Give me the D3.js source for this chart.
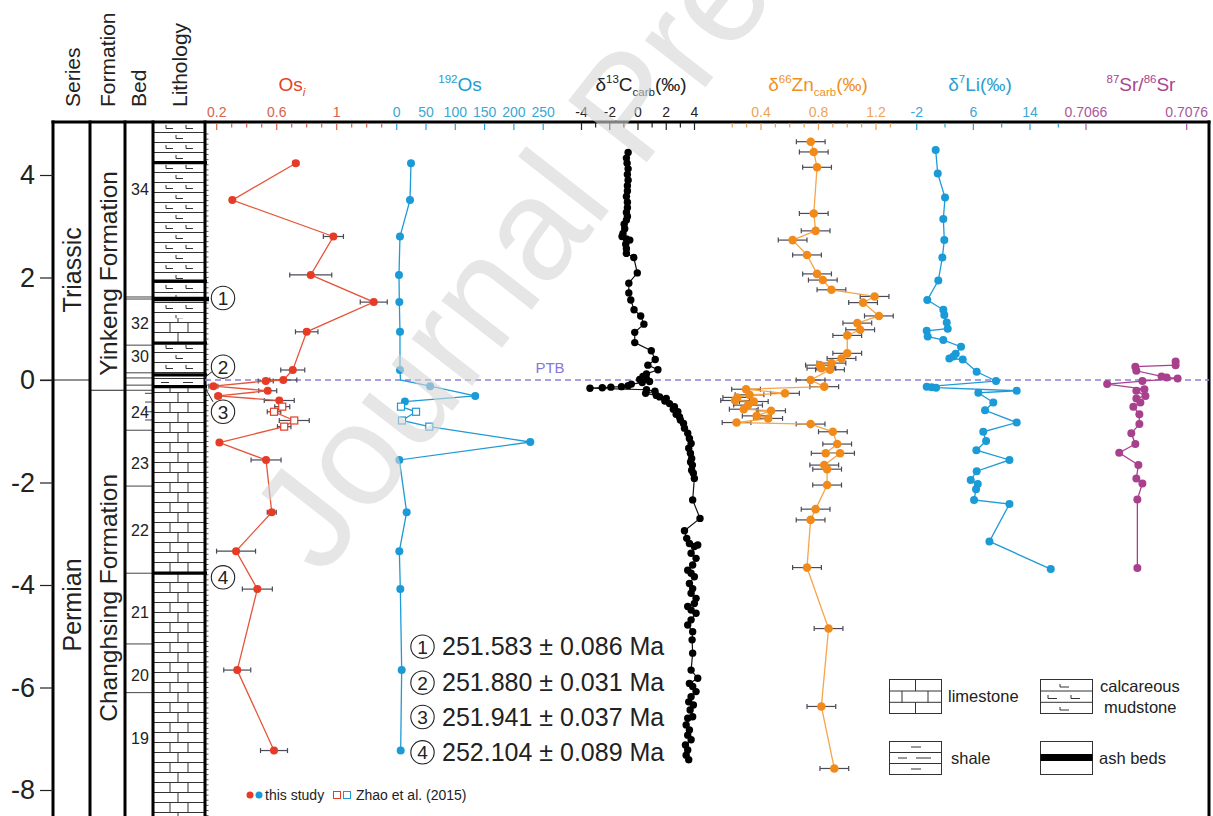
<!DOCTYPE html>
<html><head><meta charset="utf-8">
<script src="https://cdn.jsdelivr.net/npm/d3@7"></script>
<style>body{margin:0;background:#fff;} svg{display:block;font-family:"Liberation Sans",Arial,sans-serif;}</style>
</head><body><svg id="c" width="1213" height="816"></svg>
<script>
// ---------------- DATA ----------------
const depthTicks = [4, 2, 0, -2, -4, -6, -8];

const seriesNames = ["Triassic", "Permian"];
const seriesMid = [2.15, -4.39];
const formationNames = ["Yinkeng Formation", "Changhsing Formation"];
const formationMid = [2.08, -4.25];
const bedNames = ["34", "32", "30", "24", "23", "22", "21", "20", "19"];
const bedLabelDepth = [3.73, 1.12, 0.46, -0.62, -1.61, -2.92, -4.52, -5.75, -6.98];
const bedBounds = [1.62, 1.58, 0.68, 0.14, 0.04, -0.1, -0.2, -0.98, -2.07, -3.77, -5.15, -6.1];
const bedShortTicks = [-0.26, -0.43, -0.62, -0.78];
const lithTop = [5.1, 1.2, 0.72, 0.1, -0.13];
const lithBottom = [1.2, 0.72, 0.1, -0.13, -8.7];
const lithType = ["calc", "lime", "calc", "shale", "lime"];
const ashBeds = [4.24, 1.93, 1.58, 0.72, 0.10, -0.13, -3.77];
const markerNums = ["1", "2", "3", "4"];
const markerDepth = [1.6, 0.26, -0.62, -3.85];
const dateText = ["251.583 ± 0.086 Ma", "251.880 ± 0.031 Ma", "251.941 ± 0.037 Ma", "252.104 ± 0.089 Ma"];

// Os_i (s = this study, z = Zhao et al. 2015)
const osiDepth = [4.23, 3.51, 2.80, 2.05, 1.52, 0.94, 0.195, 0.0, -0.02, -0.12, -0.21, -0.31, -0.40, -0.52, -0.62, -0.79, -0.91, -1.22, -1.56, -2.58, -3.34, -4.08, -5.66, -7.23];
const osiValue = [0.727, 0.304, 0.978, 0.827, 1.247, 0.80, 0.707, 0.644, 0.527, 0.178, 0.54, 0.21, 0.617, 0.637, 0.582, 0.717, 0.65, 0.218, 0.529, 0.567, 0.329, 0.471, 0.337, 0.582];
const osiErr = [0.02, 0, 0.067, 0.14, 0.09, 0.075, 0.08, 0.09, 0.05, 0.03, 0.06, 0.02, 0.1, 0.05, 0.045, 0.1, 0.045, 0, 0.1, 0.03, 0.13, 0.1, 0.09, 0.09];
const osiSrc = ["s","s","s","s","s","s","s","s","s","s","s","s","s","z","z","z","z","s","s","s","s","s","s","s"];
const osiTicks = [0.2, 0.3, 0.4, 0.5, 0.6, 0.7, 0.8, 0.9, 1.0, 1.1, 1.2, 1.3];
const osiLabels = [0.2, 0.6, 1];

// 192Os
const os192Depth = [4.23, 3.51, 2.80, 2.05, 1.52, 0.94, 0.195, 0.0, -0.12, -0.31, -0.42, -0.52, -0.62, -0.79, -0.91, -1.21, -1.56, -2.58, -3.34, -4.08, -5.66, -7.23];
const os192Value = [24.4, 22.7, 5.6, 3.9, 4.5, 5.6, 5.6, 6.5, 57, 134, 14, 7.3, 33, 9, 55.6, 228, 4.5, 17, 4.5, 6.2, 8.5, 6.8];
const os192Src = ["s","s","s","s","s","s","s","n","s","s","s","z","z","z","z","s","s","s","s","s","s","s"];
const os192Ticks = [0, 50, 100, 150, 200, 250];

// d13C carb
const cDepth = [4.44, 4.33, 4.23, 4.12, 4.01, 3.90, 3.79, 3.69, 3.58, 3.47, 3.36, 3.27, 3.19, 3.12, 3.04, 2.95, 2.86, 2.80, 2.75, 2.73, 2.65, 2.56, 2.47, 2.39, 2.09, 1.89, 1.70, 1.56, 1.37, 1.25, 1.09, 0.93, 0.73, 0.57, 0.40, 0.29, 0.20, 0.12, 0.07, 0.03, 0.01, -0.03, -0.05, -0.08, -0.11, -0.13, -0.14, -0.15, -0.16, -0.19, -0.22, -0.26, -0.30, -0.33, -0.36, -0.41, -0.46, -0.52, -0.57, -0.62, -0.67, -0.72, -0.78, -0.85, -0.94, -1.04, -1.14, -1.24, -1.33, -1.43, -1.53, -1.60, -1.66, -1.76, -1.82, -1.92, -2.34, -2.70, -2.94, -3.09, -3.19, -3.25, -3.22, -3.38, -3.48, -3.61, -3.71, -3.77, -3.84, -3.97, -4.07, -4.16, -4.26, -4.36, -4.42, -4.49, -4.55, -4.68, -4.78, -4.91, -5.07, -5.33, -5.66, -5.82, -5.92, -5.98, -6.08, -6.18, -6.28, -6.34, -6.44, -6.57, -6.60, -6.73, -6.83, -6.93, -7.02, -7.12, -7.22, -7.32, -7.41];
const cValue = [-0.70, -0.82, -0.77, -0.70, -0.75, -0.70, -0.75, -0.75, -0.82, -0.75, -0.75, -0.82, -0.75, -0.82, -0.98, -0.94, -1.06, -1.13, -0.82, -0.58, -0.87, -0.82, -0.82, -0.30, -0.05, -0.65, -0.65, -0.51, -0.28, 0.19, 0.42, -0.23, -0.23, 0.94, 1.22, 0.70, 1.41, 0.6, 0.35, 0.59, 0.12, 0.82, 0.3, -0.47, -0.70, -1.17, -1.92, -2.53, -3.40, 0.6, 1.2, 0.54, 1.3, 1.53, 2.0, 1.9, 2.23, 2.58, 2.5, 2.82, 2.7, 2.94, 3.0, 3.22, 3.29, 3.52, 3.64, 3.76, 3.59, 3.71, 3.80, 3.72, 3.85, 3.80, 3.92, 3.99, 3.87, 4.39, 3.29, 3.45, 3.64, 3.99, 4.23, 3.76, 4.11, 3.87, 3.52, 3.76, 3.99, 3.64, 3.87, 3.76, 4.11, 3.99, 3.52, 3.76, 4.11, 3.76, 3.52, 3.87, 3.83, 3.87, 3.76, 4.23, 3.64, 3.87, 4.11, 3.76, 3.59, 3.92, 3.69, 3.87, 3.52, 3.41, 3.64, 3.52, 3.76, 3.36, 3.52, 3.41, 3.59];
const cTicks = [-4, -3, -2, -1, 0, 1, 2, 3, 4];
const cLabels = [-4, -2, 0, 2, 4];

// d66Zn carb
const znDepth = [4.65, 4.45, 4.15, 3.25, 2.91, 2.73, 2.44, 2.07, 1.95, 1.76, 1.63, 1.51, 1.25, 1.11, 0.98, 0.87, 0.52, 0.42, 0.33, 0.29, 0.23, 0.20, 0.0, -0.13, -0.18, -0.26, -0.29, -0.34, -0.40, -0.42, -0.49, -0.57, -0.60, -0.70, -0.75, -0.83, -0.86, -1.01, -1.25, -1.43, -1.43, -1.66, -1.74, -2.05, -2.52, -2.73, -3.66, -4.85, -6.37, -7.58];
const znValue = [0.746, 0.767, 0.79, 0.767, 0.78, 0.62, 0.72, 0.79, 0.83, 0.89, 1.19, 1.11, 1.22, 1.07, 1.09, 1.0, 1.0, 0.96, 0.89, 0.81, 0.82, 0.88, 0.745, 0.84, 0.296, 0.567, 0.32, 0.235, 0.22, 0.35, 0.31, 0.28, 0.47, 0.37, 0.45, 0.23, 0.745, 0.90, 0.93, 0.85, 0.95, 0.84, 0.86, 0.86, 0.78, 0.745, 0.72, 0.87, 0.82, 0.91];
const znErr = [0.1, 0.1, 0.1, 0.1, 0.1, 0.1, 0.1, 0.1, 0.1, 0.1, 0.1, 0.1, 0.1, 0.1, 0.1, 0.1, 0.1, 0.1, 0.1, 0.1, 0.1, 0.1, 0.1, 0.1, 0.1, 0.1, 0.1, 0.1, 0.1, 0.1, 0.1, 0.1, 0.1, 0.1, 0.1, 0.1, 0.1, 0.1, 0.1, 0.1, 0.1, 0.1, 0.1, 0.1, 0.1, 0.1, 0.1, 0.1, 0.1, 0.1];
const znTicks = [0.2, 0.3, 0.4, 0.5, 0.6, 0.7, 0.8, 0.9, 1.0, 1.1, 1.2, 1.3];
const znLabels = [0.4, 0.8, 1.2];

// d7Li
const liDepth = [4.49, 4.03, 3.56, 3.14, 2.73, 2.39, 1.94, 1.56, 1.37, 1.27, 1.12, 1.0, 0.96, 0.85, 0.78, 0.65, 0.51, 0.46, 0.42, 0.40, 0.16, -0.02, -0.13, -0.14, -0.15, -0.21, -0.25, -0.44, -0.59, -0.83, -1.01, -1.19, -1.37, -1.56, -1.78, -1.95, -2.03, -2.13, -2.34, -2.42, -3.15, -3.69];
const liValue = [0.68, 0.97, 2.0, 1.76, 1.9, 1.62, 1.05, -0.50, 1.76, 1.9, 2.24, 2.38, -0.59, -0.45, 1.76, 4.26, 3.51, 3.17, 2.61, 4.5, 6.47, 9.2, -0.59, 0.12, 0.73, 12.12, 6.7, 8.82, 7.65, 12.12, 7.4, 7.8, 6.43, 11.1, 6.47, 5.63, 6.62, 6.38, 6.1, 11.1, 8.27, 16.93];
const liTicks = [-2, 2, 6, 10, 14, 18];
const liLabels = [-2, 6, 14];

// 87Sr/86Sr
const srDepth = [0.36, 0.29, 0.26, 0.18, 0.07, 0.05, 0.03, -0.02, -0.08, -0.18, -0.21, -0.31, -0.36, -0.44, -0.52, -0.67, -0.86, -1.04, -1.25, -1.42, -1.66, -1.92, -2.02, -2.33, -3.67];
const srValue = [0.70749, 0.70749, 0.70709, 0.70710, 0.70735, 0.70740, 0.70751, 0.70716, 0.70681, 0.70718, 0.70710, 0.70719, 0.70710, 0.70714, 0.70707, 0.70713, 0.70713, 0.70705, 0.70709, 0.70693, 0.70712, 0.70710, 0.70716, 0.70711, 0.70711];
const srTicks = [0.7066, 0.7076];

const lithLegendNames = ["limestone", "calcareous", "mudstone", "shale", "ash beds"];

// ---------------- DRAWING ----------------
const svg = d3.select("#c");
svg.append("rect").attr("width", 1213).attr("height", 816).attr("fill", "#fff");
const y = d3.scaleLinear().domain([4, -8]).range([175, 790]);
const TOP = 122, XL = 53, XR = 1209, BOT = 816;
const cols = [53, 90, 125, 153, 205];

const xOs = d3.scaleLinear().domain([0.2, 1.0]).range([216.7, 336.7]);
const x192 = d3.scaleLinear().domain([0, 250]).range([396.7, 543.2]);
const xC = d3.scaleLinear().domain([-4, 4]).range([581.5, 694.5]);
const xZn = d3.scaleLinear().domain([0.4, 1.2]).range([761, 876]);
const xLi = d3.scaleLinear().domain([-2, 14]).range([916.7, 1030]);
const xSr = d3.scaleLinear().domain([0.7066, 0.7076]).range([1086, 1186.7]);

// patterns
const defs = svg.append("defs");
const pl = defs.append("pattern").attr("id", "lime").attr("patternUnits", "userSpaceOnUse")
  .attr("x", 153).attr("y", TOP).attr("width", 52).attr("height", 20);
pl.append("rect").attr("width", 52).attr("height", 20).attr("fill", "#fff");
pl.append("path").attr("d", "M0,0.5H52M0,10.5H52M17,0.5V10.5M35,0.5V10.5M25,10.5V20.5")
  .attr("stroke", "#333").attr("stroke-width", 1).attr("fill", "none");
const pc = defs.append("pattern").attr("id", "calc").attr("patternUnits", "userSpaceOnUse")
  .attr("x", 153).attr("y", TOP).attr("width", 52).attr("height", 20);
pc.append("rect").attr("width", 52).attr("height", 20).attr("fill", "#fff");
pc.append("path").attr("d", "M0,0.5H52M0,10.5H52M13,3V6.5H20M33,3V6.5H40M23,13V16.5H30")
  .attr("stroke", "#333").attr("stroke-width", 1).attr("fill", "none");
const ps = defs.append("pattern").attr("id", "shale").attr("patternUnits", "userSpaceOnUse")
  .attr("x", 153).attr("y", TOP).attr("width", 52).attr("height", 8);
ps.append("rect").attr("width", 52).attr("height", 8).attr("fill", "#fff");
ps.append("path").attr("d", "M0,0.5H52M8,4.5H16M30,4.5H40")
  .attr("stroke", "#333").attr("stroke-width", 1).attr("fill", "none");

// lithology column
const lith = svg.append("g");
lithType.forEach((t, i) => {
  lith.append("rect").attr("x", 153).attr("width", 52)
    .attr("y", Math.max(TOP, y(lithTop[i]))).attr("height", y(lithBottom[i]) - Math.max(TOP, y(lithTop[i])))
    .attr("fill", `url(#${t})`);
});
ashBeds.forEach((d, i) => {
  lith.append("line").attr("x1", 153).attr("x2", i === 2 ? 209 : 207).attr("y1", y(d)).attr("y2", y(d))
    .attr("stroke", "#000").attr("stroke-width", i === 2 ? 4.5 : 3.2);
});
// depth minor ticks on plot frame
const frameTicks = d3.range(48, -86, -1).map(v => v / 10);
svg.append("g").selectAll("line").data(frameTicks).join("line")
  .attr("x1", 205).attr("x2", 208.5).attr("y1", d => y(d)).attr("y2", d => y(d))
  .attr("stroke", "#333").attr("stroke-width", 0.8);

// bed column
const bedG = svg.append("g");
bedBounds.forEach(d => bedG.append("line").attr("x1", 125).attr("x2", 153).attr("y1", y(d)).attr("y2", y(d))
  .attr("stroke", "#444").attr("stroke-width", 1));
bedShortTicks.forEach(d => bedG.append("line").attr("x1", 145).attr("x2", 153).attr("y1", y(d)).attr("y2", y(d))
  .attr("stroke", "#444").attr("stroke-width", 1));
bedNames.forEach((b, i) => bedG.append("text").attr("x", 140).attr("y", y(bedLabelDepth[i]) + 6)
  .attr("text-anchor", "middle").attr("font-size", 16).attr("fill", "#222").text(b));

// series / formation
svg.append("line").attr("x1", 40).attr("x2", 90).attr("y1", y(0)).attr("y2", y(0)).attr("stroke", "#222").attr("stroke-width", 1);
svg.append("line").attr("x1", 90).attr("x2", 125).attr("y1", y(-0.2)).attr("y2", y(-0.2)).attr("stroke", "#222").attr("stroke-width", 1);
seriesNames.forEach((s, i) => svg.append("text").attr("transform", `translate(72,${y(seriesMid[i])}) rotate(-90)`)
  .attr("text-anchor", "middle").attr("dominant-baseline", "central").attr("font-size", 25).attr("fill", "#222").text(s));
formationNames.forEach((s, i) => svg.append("text").attr("transform", `translate(108,${y(formationMid[i])}) rotate(-90)`)
  .attr("text-anchor", "middle").attr("dominant-baseline", "central").attr("font-size", 24.5).attr("fill", "#222").text(s));

// header labels
const heads = ["Series", "Formation", "Bed", "Lithology"];
const headX = [72, 107, 138, 179];
heads.forEach((h, i) => svg.append("text").attr("transform", `translate(${headX[i]},107) rotate(-90)`)
  .attr("text-anchor", "start").attr("dominant-baseline", "central").attr("font-size", 21).attr("fill", "#222").text(h));

// frame
const frame = svg.append("g").attr("stroke", "#000").attr("stroke-width", 3);
cols.forEach(x => frame.append("line").attr("x1", x).attr("x2", x).attr("y1", TOP - 1.5).attr("y2", BOT));
frame.append("line").attr("x1", XR).attr("x2", XR).attr("y1", TOP - 1.5).attr("y2", BOT);
frame.append("line").attr("x1", XL - 1.5).attr("x2", XR + 1.5).attr("y1", TOP).attr("y2", TOP);

// left axis
const yAxis = d3.axisLeft(y).tickValues(depthTicks).tickSize(13).tickPadding(5).tickFormat(d => String(d));
const ya = svg.append("g").attr("transform", `translate(${XL},0)`).call(yAxis);
ya.select(".domain").remove();
ya.selectAll("line").attr("stroke", "#222").attr("stroke-width", 1.2);
ya.selectAll("text").attr("font-size", 27).attr("fill", "#222").attr("font-family", "Liberation Sans, Arial, sans-serif");

// PTB
svg.append("line").attr("x1", 205).attr("x2", XR).attr("y1", y(0)).attr("y2", y(0))
  .attr("stroke", "#8c80dc").attr("stroke-width", 1.5).attr("stroke-dasharray", "6,4");
svg.append("text").attr("x", 550).attr("y", y(0) - 7).attr("text-anchor", "middle").attr("font-size", 15)
  .attr("fill", "#8677d8").text("PTB");

// top axes
function topAxis(scale, ticks, labels, fmt, color, lcolor) {
  const g = svg.append("g");
  g.selectAll("line").data(ticks).join("line")
    .attr("x1", d => scale(d)).attr("x2", d => scale(d)).attr("y1", TOP + 1)
    .attr("y2", d => labels.some(l => Math.abs(l - d) < 1e-9) ? TOP + 8 : TOP + 5.5)
    .attr("stroke", color).attr("stroke-width", 1.2);
  g.selectAll("text").data(labels).join("text")
    .attr("x", d => scale(d)).attr("y", 117).attr("text-anchor", "middle").attr("font-size", 14)
    .attr("fill", lcolor).text(fmt);
}
topAxis(xOs, osiTicks, osiLabels, d => String(d), "#d9604a", "#d9624c");
topAxis(x192, os192Ticks, os192Ticks, d => String(d), "#2a9fd3", "#3aa7d3");
topAxis(xC, cTicks, cLabels, d => String(d), "#222", "#222");
topAxis(xZn, znTicks, znLabels, d => String(d), "#eca04c", "#eba559");
topAxis(xLi, liTicks, liLabels, d => String(d), "#2a9fd3", "#3aa7d3");
topAxis(xSr, srTicks, srTicks, d => d.toFixed(4), "#a8579c", "#a8579c");

// titles
function rich(x, parts, color) {
  const t = svg.append("text").attr("x", x).attr("y", 91).attr("text-anchor", "middle")
    .attr("font-size", 19).attr("fill", color);
  let cur = 0;
  parts.forEach(([s, k]) => {
    const off = k === "sup" ? -8 : (k === "sub" || k === "subi") ? 5 : 0;
    const ts = t.append("tspan").text(s).attr("dy", off - cur);
    if (k !== "n") ts.attr("font-size", 11.5);
    if (k === "subi") ts.attr("font-style", "italic");
    cur = off;
  });
}
rich(292, [["Os", "n"], ["i", "subi"]], "#e2432c");
rich(460, [["192", "sup"], ["Os", "n"]], "#1e9cd2");
rich(641, [["δ", "n"], ["13", "sup"], ["C", "n"], ["carb", "sub"], ["(‰)", "n"]], "#222");
rich(818, [["δ", "n"], ["66", "sup"], ["Zn", "n"], ["carb", "sub"], ["(‰)", "n"]], "#f0901e");
rich(980, [["δ", "n"], ["7", "sup"], ["Li(‰)", "n"]], "#2a9fd0");
rich(1141, [["87", "sup"], ["Sr/", "n"], ["86", "sup"], ["Sr", "n"]], "#a9458f");

// data series
const ERR = "#4a4a58";
function errBars(depths, vals, errs, xs) {
  const g = svg.append("g").attr("stroke", ERR).attr("stroke-width", 1.2);
  depths.forEach((d, i) => {
    if (!errs[i]) return;
    const yy = y(d), a = xs(vals[i] - errs[i]), b = xs(vals[i] + errs[i]);
    g.append("line").attr("x1", a).attr("x2", b).attr("y1", yy).attr("y2", yy);
    g.append("line").attr("x1", a).attr("x2", a).attr("y1", yy - 2.5).attr("y2", yy + 2.5);
    g.append("line").attr("x1", b).attr("x2", b).attr("y1", yy - 2.5).attr("y2", yy + 2.5);
  });
}
function pathLine(depths, vals, xs, color, w) {
  const pts = depths.map((d, i) => [xs(vals[i]), y(d)]);
  svg.append("path").attr("d", d3.line()(pts)).attr("fill", "none").attr("stroke", color).attr("stroke-width", w);
}
function dots(depths, vals, xs, color, r, src) {
  const g = svg.append("g");
  depths.forEach((d, i) => {
    if (src && src[i] === "n") return;
    if (src && src[i] === "z") {
      g.append("rect").attr("x", xs(vals[i]) - 3.5).attr("y", y(d) - 3.5).attr("width", 7).attr("height", 7)
        .attr("fill", "#fff").attr("stroke", color).attr("stroke-width", 1.2);
    } else {
      g.append("circle").attr("cx", xs(vals[i])).attr("cy", y(d)).attr("r", r).attr("fill", color);
    }
  });
}
errBars(osiDepth, osiValue, osiErr, xOs);
pathLine(osiDepth, osiValue, xOs, "#e5553a", 1.3);
dots(osiDepth, osiValue, xOs, "#e63b25", 4, osiSrc);
pathLine(os192Depth, os192Value, x192, "#1e9ad6", 1.3);
dots(os192Depth, os192Value, x192, "#1a9ad6", 4, os192Src);
pathLine(cDepth, cValue, xC, "#111", 1.2);
dots(cDepth, cValue, xC, "#000", 3.7);
errBars(znDepth, znValue, znErr, xZn);
pathLine(znDepth, znValue, xZn, "#f6a54a", 1.3);
dots(znDepth, znValue, xZn, "#f28a1a", 4.3);
pathLine(liDepth, liValue, xLi, "#1e9ad6", 1.3);
dots(liDepth, liValue, xLi, "#1a9ad6", 4);
pathLine(srDepth, srValue, xSr, "#a9408e", 1.3);
dots(srDepth, srValue, xSr, "#a9408e", 4);

// circled markers near lithology
function circled(cx, cy, r, label, fs) {
  svg.append("circle").attr("cx", cx).attr("cy", cy).attr("r", r).attr("fill", "#fff").attr("stroke", "#222").attr("stroke-width", 1.1);
  svg.append("text").attr("x", cx).attr("y", cy + fs * 0.36).attr("text-anchor", "middle").attr("font-size", fs).attr("fill", "#222").text(label);
}
svg.append("path").attr("d", `M212,${y(markerDepth[1]) + 5}L204,${y(0) - 2}`).attr("stroke", "#222").attr("fill", "none");
svg.append("path").attr("d", `M213,${y(markerDepth[2]) - 10}L205,${y(-0.15)}`).attr("stroke", "#222").attr("fill", "none");
markerNums.forEach((m, i) => circled(223, y(markerDepth[i]), 11.7, m, 19));

// dates
dateText.forEach((t, i) => {
  const cy = [646.7, 682.7, 717, 752.3][i];
  circled(422.5, cy, 11.7, markerNums[i], 19);
  svg.append("text").attr("x", 442).attr("y", cy + 8.5).attr("font-size", 25).attr("fill", "#222").text(t);
});

// bottom legend
svg.append("circle").attr("cx", 250).attr("cy", 795).attr("r", 3.5).attr("fill", "#e63b25");
svg.append("circle").attr("cx", 259).attr("cy", 795).attr("r", 3.5).attr("fill", "#1a9ad6");
svg.append("text").attr("x", 265).attr("y", 800).attr("font-size", 14).attr("fill", "#222").text("this study");
svg.append("rect").attr("x", 333.5).attr("y", 791.5).attr("width", 7).attr("height", 7).attr("fill", "#fff").attr("stroke", "#e63b25");
svg.append("rect").attr("x", 343.5).attr("y", 791.5).attr("width", 7).attr("height", 7).attr("fill", "#fff").attr("stroke", "#1a9ad6");
svg.append("text").attr("x", 356).attr("y", 800).attr("font-size", 14).attr("fill", "#222").text("Zhao et al. (2015)");

// lithology legend
const lg = svg.append("g").attr("stroke", "#333").attr("stroke-width", 1).attr("fill", "none");
lg.append("rect").attr("x", 889.5).attr("y", 679.5).attr("width", 52).attr("height", 34).attr("fill", "#fff");
lg.append("path").attr("d", "M889.5,691H941.5M889.5,702.3H941.5M915.5,679.5V691M902,691V702.3M928,691V702.3M915.5,702.3V713.5");
lg.append("rect").attr("x", 1040.5).attr("y", 679.5).attr("width", 52).attr("height", 34).attr("fill", "#fff");
lg.append("path").attr("d", "M1040.5,691H1092.5M1040.5,702.3H1092.5M1060,684V687H1069M1048,695V698.5H1057M1071,695V698.5H1080M1060,707V710H1069");
lg.append("rect").attr("x", 889.5).attr("y", 741.5).attr("width", 52).attr("height", 33).attr("fill", "#fff");
lg.append("path").attr("d", "M889.5,752.5H941.5M889.5,763.5H941.5M911,747H921M898,758H907M916,758H931M911,769H921");
lg.append("rect").attr("x", 1040.5).attr("y", 741.5).attr("width", 52).attr("height", 33).attr("fill", "#fff");
svg.append("rect").attr("x", 1040.5).attr("y", 754).attr("width", 52).attr("height", 7).attr("fill", "#000");
const lt = (x, yy, s) => svg.append("text").attr("x", x).attr("y", yy).attr("font-size", 16.5).attr("fill", "#222").text(s);
lt(948, 702, lithLegendNames[0]);
lt(1100, 692, lithLegendNames[1]);
lt(1104, 713, lithLegendNames[2]);
lt(951, 764, lithLegendNames[3]);
lt(1099, 764, lithLegendNames[4]);

// watermark
svg.append("text").attr("transform", "translate(322,578) rotate(-52)")
  .attr("font-size", 145).attr("fill", "#d6d6d6").attr("opacity", 0.6).text("Journal Pre-proof");
</script></body></html>
